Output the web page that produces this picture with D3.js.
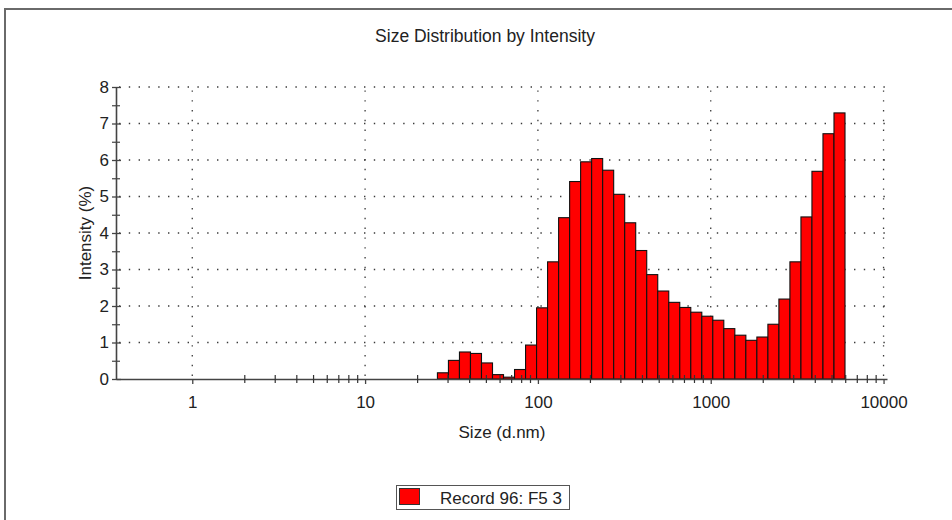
<!DOCTYPE html>
<html>
<head>
<meta charset="utf-8">
<script src="https://cdn.jsdelivr.net/npm/d3@7"></script>
<style>
  html, body { margin: 0; padding: 0; background: #fff; }
  svg text { font-family: "Liberation Sans", Arial, Helvetica, sans-serif; fill: #222; }
</style>
</head>
<body>
<svg id="chart" width="952" height="520"></svg>
<script>
// Size classes (d.nm, bin centres) and intensity (%) for Record 96: F5 3
const sizes = [28.21, 32.67, 37.84, 43.82, 50.75, 58.77, 68.06, 78.82, 91.28,
  105.7, 122.4, 141.8, 164.2, 190.1, 220.2, 255.0, 295.3, 342.0, 396.1, 458.7,
  531.2, 615.1, 712.4, 825.0, 955.4, 1106, 1281, 1484, 1718, 1990, 2305, 2669,
  3091, 3580, 4145, 4801, 5560];
const intensity = [0.17, 0.51, 0.74, 0.70, 0.44, 0.12, 0.05, 0.26, 0.93,
  1.95, 3.21, 4.42, 5.41, 5.95, 6.04, 5.72, 5.06, 4.28, 3.52, 2.86,
  2.41, 2.10, 1.96, 1.83, 1.72, 1.61, 1.38, 1.20, 1.06, 1.15, 1.50, 2.19,
  3.21, 4.44, 5.69, 6.72, 7.29];
const xMajorTicks = [1, 10, 100, 1000, 10000];
const xTickLabels = ["1", "10", "100", "1000", "10000"];
const yTicks = [0, 1, 2, 3, 4, 5, 6, 7, 8];
const yMinorTicks = [0.5, 1.5, 2.5, 3.5, 4.5, 5.5, 6.5, 7.5];
const seriesName = "Record 96: F5 3";

const svg = d3.select("#chart");
const FONT = 17;

// outer frame
svg.append("path")
  .attr("d", "M5,530 L5,9 L960,9")
  .attr("fill", "none").attr("stroke", "#6a6a6a").attr("stroke-width", 2);

const x = d3.scaleLog().domain([0.362, 10470]).range([116, 887]);
const y = d3.scaleLinear().domain([0, 8]).range([379, 87]);

// bin ratio of the 70 log-spaced size classes (0.4 .. 10000 nm)
const ratio = Math.pow(10000 / 0.4, 1 / 69);
const half = Math.sqrt(ratio);

// dotted grid
const grid = svg.append("g").attr("stroke", "#3a3a3a").attr("stroke-width", 1.3)
  .attr("stroke-dasharray", "1.4 8.4").attr("fill", "none");
grid.selectAll("line.h").data(yTicks.filter(d => d > 0)).join("line")
  .attr("x1", x.range()[0] + 3).attr("x2", x.range()[1])
  .attr("y1", d => y(d)).attr("y2", d => y(d));
grid.selectAll("line.v").data(xMajorTicks).join("line")
  .attr("x1", d => x(d)).attr("x2", d => x(d))
  .attr("y1", y(0) - 3).attr("y2", y(8) - 2);

// bars
svg.append("g").selectAll("rect").data(sizes).join("rect")
  .attr("x", d => x(d / half))
  .attr("width", d => x(d * half) - x(d / half))
  .attr("y", (d, i) => y(intensity[i]))
  .attr("height", (d, i) => y(0) - y(intensity[i]))
  .attr("fill", "#ff0000")
  .attr("stroke", "#111").attr("stroke-width", 1.1);

// x axis
const xMinor = [];
[1, 10, 100, 1000].forEach(dec => { for (let k = 2; k <= 9; k++) xMinor.push(dec * k); });

const xAxis = svg.append("g").attr("transform", `translate(0,${y(0)})`)
  .call(d3.axisBottom(x).tickValues(xMajorTicks)
    .tickFormat((d, i) => xTickLabels[i]).tickSizeInner(5).tickSizeOuter(0).tickPadding(12));
xAxis.select(".domain").attr("stroke", "#444").attr("stroke-width", 1.6);
xAxis.selectAll(".tick line").attr("stroke", "#444").attr("stroke-width", 1.3);
xAxis.selectAll("text").attr("font-size", FONT).style("font-family", "Liberation Sans, Arial, sans-serif").attr("fill", "#222");

const xMinorAxis = svg.append("g").attr("transform", `translate(0,${y(0) - 4})`)
  .call(d3.axisBottom(x).tickValues(xMinor).tickFormat("").tickSizeInner(8).tickSizeOuter(0));
xMinorAxis.select(".domain").remove();
xMinorAxis.selectAll(".tick line").attr("stroke", "#333").attr("stroke-width", 1.2);

// y axis
const yAxis = svg.append("g").attr("transform", `translate(${x.range()[0]},0)`)
  .call(d3.axisLeft(y).tickValues(yTicks).tickSizeInner(4).tickSizeOuter(0).tickPadding(3));
yAxis.select(".domain").attr("stroke", "#444").attr("stroke-width", 1.6);
yAxis.selectAll(".tick line").attr("stroke", "#444").attr("stroke-width", 1.3).attr("x2", 5).attr("x1", -4);
yAxis.selectAll("text").attr("font-size", FONT).style("font-family", "Liberation Sans, Arial, sans-serif").attr("fill", "#222");

const yMinorAxis = svg.append("g").attr("transform", `translate(${x.range()[0] + 4},0)`)
  .call(d3.axisLeft(y).tickValues(yMinorTicks).tickFormat("").tickSizeInner(8).tickSizeOuter(0));
yMinorAxis.select(".domain").remove();
yMinorAxis.selectAll(".tick line").attr("stroke", "#444").attr("stroke-width", 1.2);

// titles
svg.append("text").attr("x", 485).attr("y", 42).attr("text-anchor", "middle")
  .attr("font-size", FONT + 0.5).text("Size Distribution by Intensity");
svg.append("text").attr("x", 502).attr("y", 438).attr("text-anchor", "middle")
  .attr("font-size", FONT).text("Size (d.nm)");
svg.append("text").attr("transform", "translate(91,233) rotate(-90)").attr("text-anchor", "middle")
  .attr("font-size", FONT).text("Intensity (%)");

// legend
const lg = svg.append("g");
lg.append("rect").attr("x", 396.5).attr("y", 485.5).attr("width", 173).attr("height", 24)
  .attr("fill", "#fff").attr("stroke", "#555").attr("stroke-width", 1);
lg.append("rect").attr("x", 399.5).attr("y", 488.5).attr("width", 20).attr("height", 16)
  .attr("fill", "#ff0000").attr("stroke", "#333").attr("stroke-width", 1);
lg.append("text").attr("x", 440).attr("y", 504).attr("font-size", FONT).text(seriesName);
</script>
</body>
</html>
